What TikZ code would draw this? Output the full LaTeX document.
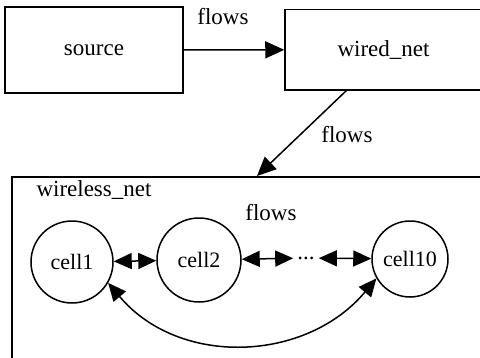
\documentclass[tikz,border=0pt]{standalone}
\usepackage{fontspec}
\setmainfont{Liberation Serif}
\usetikzlibrary{arrows.meta}
\begin{document}
\begin{tikzpicture}[x=1pt,y=-1pt,
  box/.style={draw, line width=1.5pt, rectangle, inner sep=0pt},
  cell/.style={draw, circle, line width=1.5pt, inner sep=0pt, font=\fontsize{22}{26}\selectfont},
  lbl/.style={font=\fontsize{23}{27}\selectfont, inner sep=0pt},
  arr/.style={line width=1.5pt, -{Triangle[length=19pt,width=17pt]}},
  dbl/.style={line width=1.5pt, {Triangle[length=18pt,width=16pt]}-{Triangle[length=18pt,width=16pt]}},
  every node/.style={font=\fontsize{23}{27}\selectfont}]
\useasboundingbox (0,0) rectangle (480,357);
\clip (0,0) rectangle (480,357);
\node[box, minimum width=178pt, minimum height=86pt] (source) at (94,50) {source};
\node[box, minimum width=197pt, minimum height=80.5pt] (wired) at (383.5,49.75) {wired\_net};
\node[box, minimum width=480pt, minimum height=200pt, anchor=north west] (wireless) at (11,176) {};
\node[lbl] (wl) at (94,190) {wireless\_net};
\node[lbl] (l1) at (223,17) {flows};
\node[lbl] (l2) at (347,135) {flows};
\node[lbl] (l3) at (271,213) {flows};
\node[cell, minimum size=82pt] (cell1) at (72,262) {cell1};
\node[cell, minimum size=84pt] (cell2) at (199,260) {cell2};
\node[cell, minimum size=76pt] (cell10) at (410,259) {cell10};
\node[inner sep=4pt] (dots) at (306,258) {...};
\coordinate (wA) at (347,90);
\coordinate (wB) at (257,176);
\draw[arr] (source) -- (wired);
\draw[arr] (wA) -- (wB);
\draw[dbl] (cell1) -- (cell2);
\draw[dbl] (cell2) -- (dots);
\draw[dbl] (dots) -- (cell10);
\draw[dbl] (cell1.-30) .. controls +(50:110) and +(130:110) .. (cell10.-150);
\end{tikzpicture}
\end{document}
